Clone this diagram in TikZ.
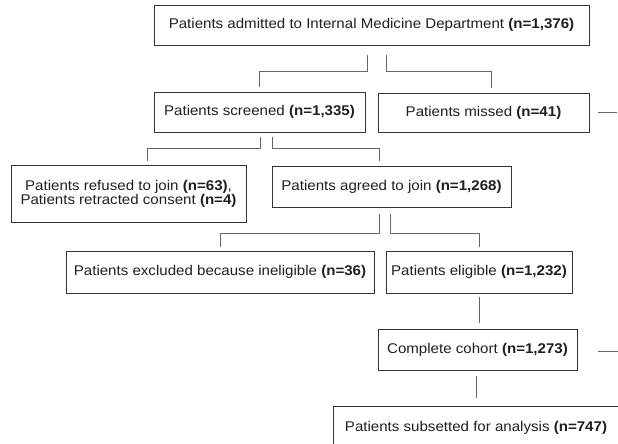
\documentclass[tikz,border=0pt]{standalone}
\usepackage{fontspec}
\setmainfont{Liberation Sans}[FakeStretch=1.07]
\begin{document}
\begin{tikzpicture}[x=1pt,y=-1pt,
  box/.style={draw=black!80, line width=0.9pt, minimum width=#1, minimum height=40pt,
    inner sep=0pt, font=\fontsize{14.1}{14.2}\selectfont, text=black!88, align=center},
  conn/.style={draw=black!60, line width=0.9pt}]
\useasboundingbox (0,0) rectangle (618,444);
\clip (0,0) rectangle (618,444);
\fill[white] (0,0) rectangle (618,444);
\node[box=435pt] (b1) at (371.5,25) {Patients admitted to Internal Medicine Department \textbf{(n=1,376)}};
\node[box=211pt] (scr) at (259.5,112) {Patients screened \textbf{(n=1,335)}};
\node[box=211pt, minimum height=39pt] (mis) at (483.5,112.5) {Patients missed \textbf{(n=41)}};
\node[box=235pt, minimum height=57pt] (ref) at (128.5,193.5) {Patients refused to join \textbf{(n=63)},\\Patients retracted consent \textbf{(n=4)}};
\node[box=239pt, minimum height=41pt] (agr) at (391.5,186.5) {Patients agreed to join \textbf{(n=1,268)}};
\node[box=308pt, minimum height=42pt] (exc) at (220,272) {Patients excluded because ineligible \textbf{(n=36)}};
\node[box=186pt, minimum height=42pt] (eli) at (479,272) {Patients eligible \textbf{(n=1,232)}};
\node[box=199pt, minimum height=41pt] (coh) at (477.5,349.5) {Complete cohort \textbf{(n=1,273)}};
\node[box=286pt, minimum height=44pt] (sub) at (476,428) {Patients subsetted for analysis \textbf{(n=747)}};
% connectors
\draw[conn] ([xshift=-4.5pt,yshift=-10pt]b1.south) -- ++(0,16) -| ([yshift=5pt]scr.north);
\draw[conn] ([xshift=14.5pt,yshift=-10pt]b1.south) -- ++(0,16) -| ([xshift=7.5pt,yshift=5pt]mis.north);
\draw[conn] ([xshift=0.5pt,yshift=-5pt]scr.south) -- ++(0,11) -| ([xshift=18.5pt,yshift=4pt]ref.north);
\draw[conn] ([xshift=12.5pt,yshift=-5pt]scr.south) -- ++(0,11) -| ([xshift=-12.5pt,yshift=5pt]agr.north);
\draw[conn] ([xshift=-12.5pt,yshift=-7pt]agr.south) -- ++(0,19) -| ([yshift=4pt]exc.north);
\draw[conn] ([xshift=-1.5pt,yshift=-7pt]agr.south) -- ++(0,19) -| ([yshift=4pt]eli.north);
\draw[conn] ([yshift=-4pt]eli.south) -- ([xshift=1.5pt,yshift=6pt]coh.north);
\draw[conn] ([xshift=-1.5pt,yshift=-6pt]coh.south) -- ([yshift=8pt]sub.north);
\draw[conn] ([xshift=9pt]mis.east) -- ++(19,0);
\draw[conn] ([xshift=21pt,yshift=-2pt]coh.east) -- ++(20,0);
\end{tikzpicture}
\end{document}
